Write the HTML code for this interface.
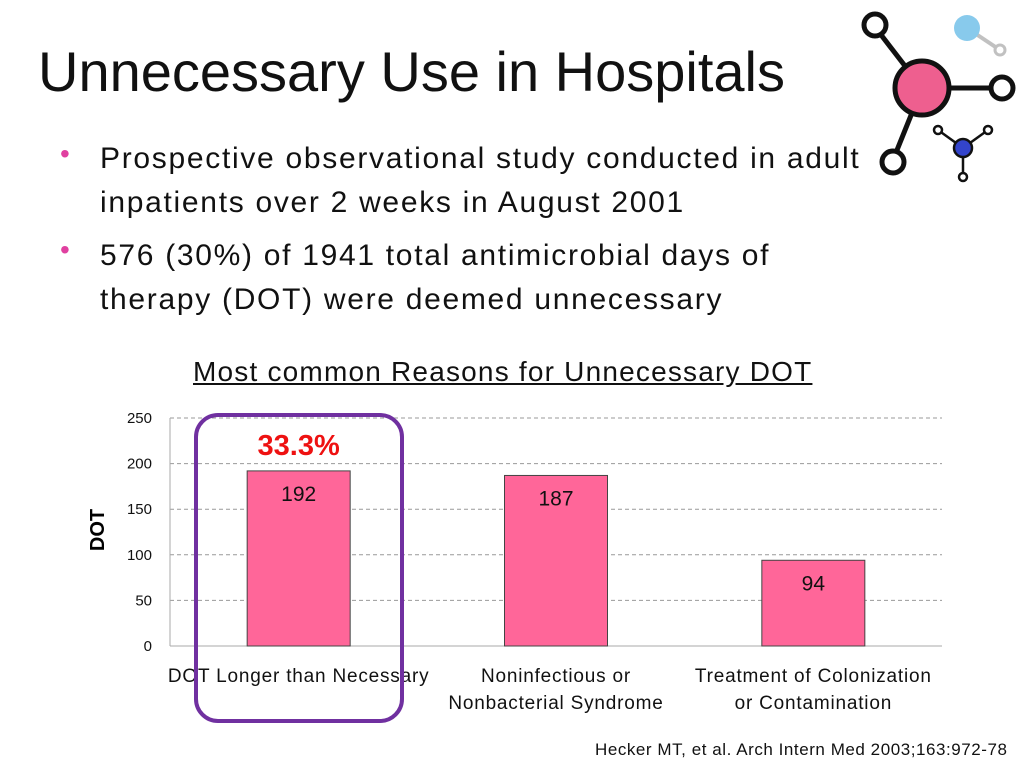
<!DOCTYPE html>
<html><head><meta charset="utf-8"><style>
body{margin:0;width:1024px;height:768px;background:#fff;position:relative;overflow:hidden;font-family:"Liberation Sans",sans-serif;color:#111}
.t{position:absolute;white-space:nowrap}
</style></head><body>
<div class="t" style="left:38px;top:40px;font-size:56px;line-height:64px">Unnecessary Use in Hospitals</div>
<div>
<div class="t" style="left:60px;top:138px;font-size:28px;color:#e040a0">•</div>
<div class="t" style="left:100px;top:137px;font-size:30px;line-height:44px;letter-spacing:1.7px">Prospective observational study conducted in adult<br>inpatients over 2 weeks in August 2001</div>
<div class="t" style="left:60px;top:234px;font-size:28px;color:#e040a0">•</div>
<div class="t" style="left:100px;top:234px;font-size:30px;line-height:44px;letter-spacing:1.7px">576 (30%) of 1941 total antimicrobial days of<br>therapy (DOT) were deemed unnecessary</div>
</div>
<svg style="position:absolute;left:850px;top:0" width="174" height="190">
<g stroke="#111" stroke-width="5" fill="#fff">
<line x1="25" y1="27" x2="72" y2="88"/><line x1="72" y1="88" x2="150" y2="88"/><line x1="72" y1="88" x2="43" y2="160"/>
<circle cx="25" cy="25" r="11"/><circle cx="152" cy="88" r="11"/><circle cx="43" cy="162" r="11"/>
<circle cx="72" cy="88" r="27" fill="#ee5f8f"/>
</g>
<g stroke="#111" stroke-width="2.5" fill="#fff">
<line x1="88" y1="130" x2="113" y2="148"/><line x1="138" y1="130" x2="113" y2="148"/><line x1="113" y1="148" x2="113" y2="176"/>
<circle cx="88" cy="130" r="4"/><circle cx="138" cy="130" r="4"/><circle cx="113" cy="177" r="4"/>
<circle cx="113" cy="148" r="9" fill="#3344cc"/>
</g>
<g opacity="0.6"><line x1="117" y1="28" x2="150" y2="50" stroke="#999" stroke-width="4"/><circle cx="150" cy="50" r="5" fill="#fff" stroke="#999" stroke-width="3"/><circle cx="117" cy="28" r="13" fill="#3aa8e0"/></g>
</svg>
<div class="t" style="left:193px;top:356px;font-size:28px;text-decoration:underline;letter-spacing:1.2px">Most common Reasons for Unnecessary DOT</div>
<svg id="chart" style="position:absolute;left:0;top:0" width="1024" height="768"></svg>
<div class="t" style="left:595px;top:740px;font-size:17px;letter-spacing:0.55px">Hecker MT, et al. Arch Intern Med 2003;163:972-78</div>
<script>
const categories=[["DOT Longer than Necessary"],["Noninfectious or","Nonbacterial Syndrome"],["Treatment of Colonization","or Contamination"]];
const values=[192,187,94];
const ticks=[0,50,100,150,200,250];
const NS="http://www.w3.org/2000/svg";
const svg=document.getElementById('chart');
const x0=170,x1=942,y0=646,yTop=418,ymax=250;
const y=v=>y0-(v/ymax)*(y0-yTop);
const bw=(x1-x0)/values.length;
const xc=i=>x0+bw*(i+0.5);
function mk(t,a,txt){const e=document.createElementNS(NS,t);for(const k in a)e.setAttribute(k,a[k]);if(txt!=null)e.textContent=txt;svg.appendChild(e);return e;}
ticks.forEach(t=>{
 if(t>0){const g=mk('line',{x1:x0,x2:x1,y1:y(t),y2:y(t),stroke:'#999','stroke-dasharray':'4,3'});
 
 }
 const l=mk('text',{x:152,y:y(t)+5,'text-anchor':'end','font-size':15,fill:'#111'},t);
 
 
});
mk('line',{x1:x0,x2:x0,y1:yTop,y2:y0,stroke:'#aaa'});
mk('line',{x1:x0,x2:x1,y1:y0,y2:y0,stroke:'#aaa'});
const yt=mk('text',{x:104,y:530,'text-anchor':'middle','font-size':20,'font-weight':'bold',transform:'rotate(-90 104 530)'},'DOT');


values.forEach((v,i)=>{
 const w=103;
 const b=mk('rect',{x:xc(i)-w/2,y:y(v),width:w,height:y0-y(v),fill:'#ff6699',stroke:'#444','stroke-width':1});
 
 
 const lb=mk('text',{x:xc(i),y:y(v)+30,'text-anchor':'middle','font-size':21,fill:'#111'},v);
 
 
 categories[i].forEach((s,j)=>{
  const c=mk('text',{x:xc(i),y:682+j*27,'text-anchor':'middle','font-size':19,'letter-spacing':0.8,fill:'#111'},s);
  
  
 });
});
const pct=mk('text',{x:xc(0),y:455,'text-anchor':'middle','font-size':29,'font-weight':'bold',fill:'#ee1111'},'33.3%');


const hl=mk('rect',{x:196,y:415,width:206,height:306,rx:22,fill:'none',stroke:'#7030a0','stroke-width':4});


</script>
</body></html>
